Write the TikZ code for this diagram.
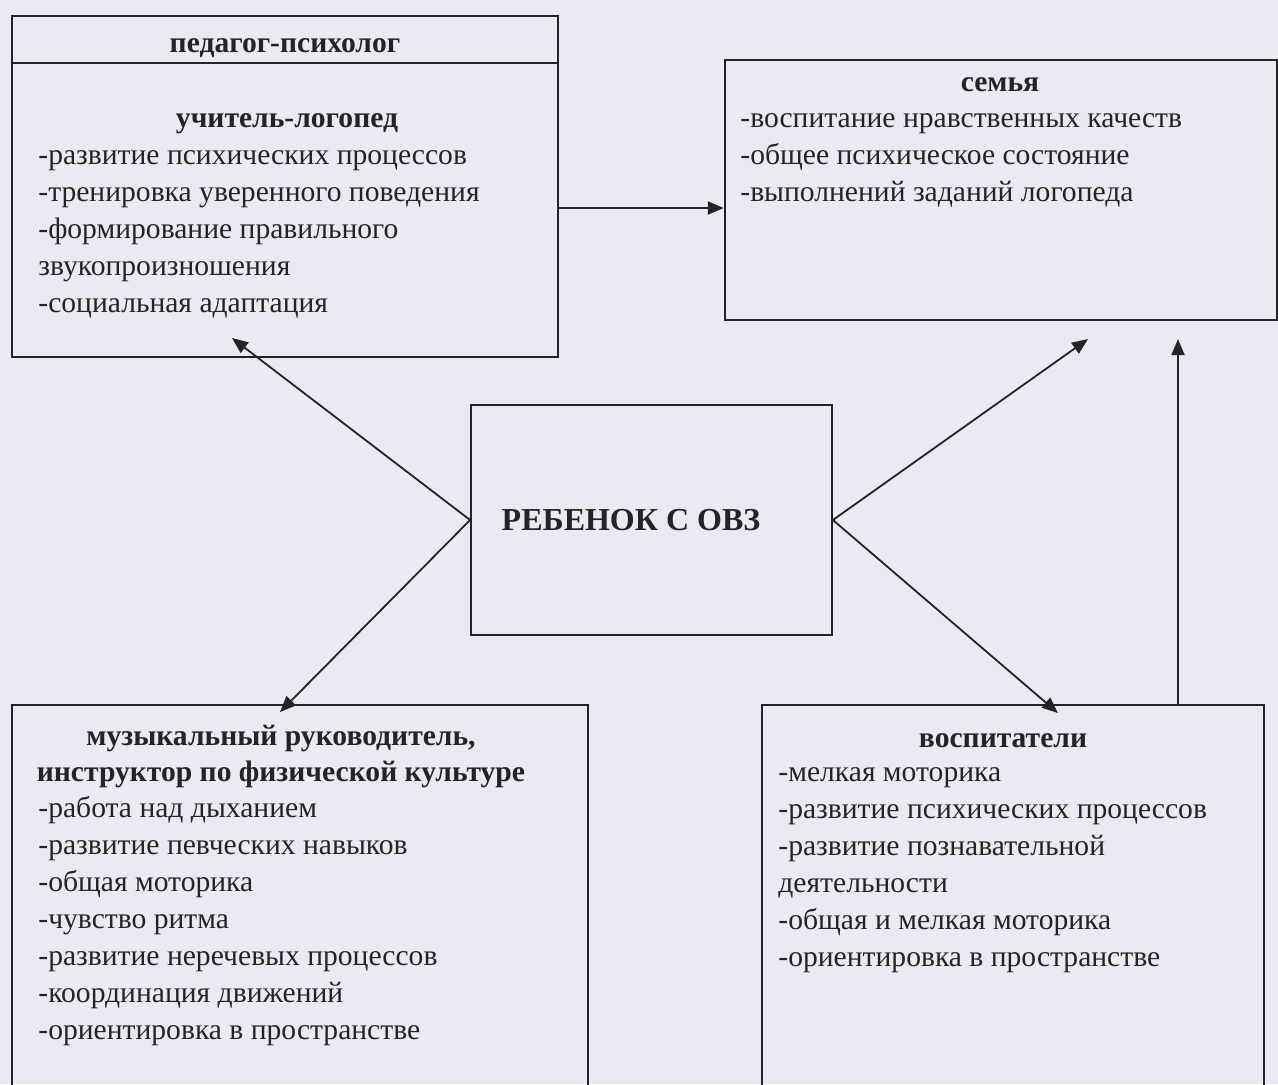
\documentclass[tikz,border=0pt]{standalone}
\usepackage{fontspec}
\setmainfont{Liberation Serif}
\usetikzlibrary{arrows.meta,fit}
\definecolor{bg}{RGB}{233,234,242}
\definecolor{ink}{RGB}{36,36,40}
\tikzset{
  box/.style={draw=ink, line width=1.2pt, inner sep=0pt},
  cbox/.style={draw=ink, line width=0.9pt, inner sep=0pt},
  txt/.style={text=ink, inner sep=0pt, font=\fontsize{14.8}{18.5}\selectfont},
  ttl/.style={txt, font=\fontsize{14.8}{18.5}\selectfont\bfseries},
  big/.style={txt, font=\fontsize{16}{19}\selectfont\bfseries},
  arr/.style={draw=ink, line width=0.9pt, -{Triangle[length=8pt,width=6.5pt]}},
}
\begin{document}
\begin{tikzpicture}[x=0.5pt,y=-0.5pt]
\fill[bg] (0,0) rectangle (1278,1084);
\useasboundingbox (0,0) rectangle (1278,1084);
\clip (0,0) rectangle (1278,1084);

% boxes
\node[box, fit={(12,16) (558,357)}] (tl) {};
\node[box, fit={(725,60) (1277,320)}] (tr) {};
\node[cbox, fit={(471,405) (832,635)}] (child) {};
\node[box, fit={(12,705) (588,1110)}] (bl) {};
\node[box, fit={(762,705) (1264,1110)}] (br) {};
\coordinate (dv) at (0,63);
\draw[ink, line width=1.2pt] (tl.west |- dv) -- (tl.east |- dv);

% top-left texts
\node[ttl, anchor=base] (tlh) at (285,52) {педагог-психолог};
\node[ttl, anchor=base] (tlt) at (287,127) {учитель-логопед};
\foreach \t [count=\i] in {-развитие психических процессов,-тренировка уверенного поведения,-формирование правильного,звукопроизношения,-социальная адаптация}
  \node[txt, anchor=base west] (tl\i) at (38,{164+37*(\i-1)}) {\t};

% top-right texts
\node[ttl, anchor=base] (trt) at (1000,91) {семья};
\foreach \t [count=\i] in {-воспитание нравственных качеств,-общее психическое состояние,-выполнений заданий логопеда}
  \node[txt, anchor=base west] (tr\i) at (740,{127+37*(\i-1)}) {\t};

% centre
\node[big, anchor=base] (ct) at (631,530) {РЕБЕНОК С ОВЗ};

% bottom-left texts
\node[ttl, anchor=base] (blt1) at (281,745) {музыкальный руководитель,};
\node[ttl, anchor=base] (blt2) at (281,781) {инструктор по физической культуре};
\foreach \t [count=\i] in {-работа над дыханием,-развитие певческих навыков,-общая моторика,-чувство ритма,-развитие неречевых процессов,-координация движений,-ориентировка в пространстве}
  \node[txt, anchor=base west] (bl\i) at (38,{817+37*(\i-1)}) {\t};

% bottom-right texts
\node[ttl, anchor=base] (brt) at (1003,747) {воспитатели};
\foreach \t [count=\i] in {-мелкая моторика,-развитие психических процессов,-развитие познавательной,деятельности,-общая и мелкая моторика,-ориентировка в пространстве}
  \node[txt, anchor=base west] (br\i) at (778,{781+37*(\i-1)}) {\t};

% connectors
\coordinate (tlend) at (232,338);
\coordinate (blend) at (280,712);
\coordinate (trend) at (1088,339);
\coordinate (brend) at (1058,713);
\coordinate (vend) at (1178,339);
\coordinate (hy) at (0,208);
\draw[arr] (child.west) -- (tlend);
\draw[arr] (child.west) -- (blend);
\draw[arr] (child.east) -- (trend);
\draw[arr] (child.east) -- (brend);
\draw[arr] (br.north -| vend) -- (vend);
\draw[arr] (tl.east |- hy) -- (tr.west |- hy);
\end{tikzpicture}
\end{document}
